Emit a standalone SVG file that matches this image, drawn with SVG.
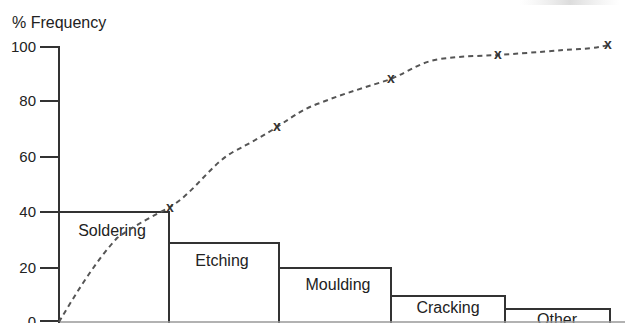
<svg xmlns="http://www.w3.org/2000/svg" width="635" height="323" viewBox="0 0 635 323">
  <style>
    .lbl { font-family: "Liberation Sans", Arial, sans-serif; font-size: 16px; fill: #222; }
    .tick { font-family: "Liberation Sans", Arial, sans-serif; font-size: 15px; fill: #222; text-anchor: end; }
    .axis { stroke: #333; stroke-width: 2; fill: none; }
    .bar { stroke: #333; stroke-width: 2; fill: #fff; }
    .cum { stroke: #555; stroke-width: 2; fill: none; stroke-dasharray: 5 4; }
    .mark { font-family: "Liberation Sans", Arial, sans-serif; font-size: 14px; font-weight: bold; fill: #333; text-anchor: middle; }
  </style>
  <defs>
    <linearGradient id="smudge" x1="0" y1="0" x2="1" y2="0">
      <stop offset="0" stop-color="#e8e8e8" stop-opacity="0"/>
      <stop offset="0.5" stop-color="#dcdcdc" stop-opacity="1"/>
      <stop offset="1" stop-color="#e8e8e8" stop-opacity="0"/>
    </linearGradient>
  </defs>
  <rect width="635" height="323" fill="#fff"/>
  <rect x="520" y="0" width="100" height="5" fill="url(#smudge)"/>

  <!-- axis title -->
  <text class="lbl" x="12" y="28">% Frequency</text>

  <!-- bars -->
  <g id="bar-soldering">
    <rect class="bar" x="59" y="212" width="110" height="112"/>
    <text class="lbl" x="112" y="236" text-anchor="middle">Soldering</text>
  </g>
  <g id="bar-etching">
    <rect class="bar" x="169" y="243" width="110" height="81"/>
    <text class="lbl" x="222" y="266" text-anchor="middle">Etching</text>
  </g>
  <g id="bar-moulding">
    <rect class="bar" x="279" y="268" width="112" height="56"/>
    <text class="lbl" x="338" y="290" text-anchor="middle">Moulding</text>
  </g>
  <g id="bar-cracking">
    <rect class="bar" x="391" y="296" width="114" height="28"/>
    <text class="lbl" x="448" y="313" text-anchor="middle">Cracking</text>
  </g>
  <g id="bar-other">
    <rect class="bar" x="505" y="309" width="105" height="15"/>
    <text class="lbl" x="557" y="325" text-anchor="middle">Other</text>
  </g>

  <!-- baseline -->
  <line x1="59" y1="322" x2="625" y2="322" stroke="#999" stroke-width="1.5"/>

  <!-- y axis and ticks -->
  <g id="y-axis">
    <path class="axis" d="M40 47 H59 V323"/>
    <path class="axis" d="M40 101 H59 M40 157 H59 M40 212 H59 M40 268 H59 M40 321 H59"/>
    <text class="tick" x="36" y="52">100</text>
    <text class="tick" x="36" y="106">80</text>
    <text class="tick" x="36" y="162">60</text>
    <text class="tick" x="36" y="217">40</text>
    <text class="tick" x="36" y="273">20</text>
    <text class="tick" x="36" y="327">0</text>
  </g>

  <!-- cumulative curve -->
  <g id="connectors">
    <path class="cum" d="M59 322 C75 295, 95 262, 117 238 C135 225, 155 215, 170 207 C195 192, 210 165, 233 152 C250 143, 265 135, 277 127 C295 115, 305 108, 320 103 C345 93, 370 86, 391 79 C410 71, 420 62, 440 59 C460 56, 480 56, 498 55 C530 53, 560 50, 580 49 C595 48, 600 47, 608 45"/>
  </g>

  <!-- data points -->
  <g id="points">
    <text class="mark" x="170" y="212">x</text>
    <text class="mark" x="277" y="131">x</text>
    <text class="mark" x="391" y="83">x</text>
    <text class="mark" x="498" y="59">x</text>
    <text class="mark" x="608" y="49">x</text>
  </g>
</svg>
